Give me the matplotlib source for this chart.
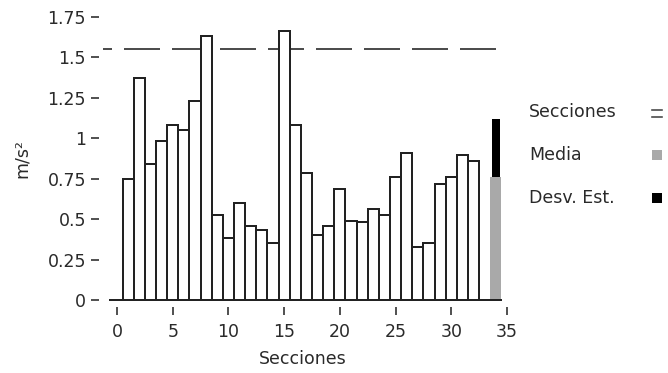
import matplotlib
matplotlib.use("Agg")
import matplotlib.pyplot as plt
from matplotlib.patches import Rectangle
import numpy as np

# Acceleration per section (m/s^2)
sections = list(range(1, 33))
accel = [0.75, 1.37, 0.84, 0.98, 1.08, 1.05, 1.23, 1.63,
         0.525, 0.38, 0.60, 0.46, 0.43, 0.355, 1.66, 1.08,
         0.785, 0.40, 0.46, 0.685, 0.49, 0.48, 0.56, 0.525,
         0.76, 0.91, 0.33, 0.35, 0.715, 0.76, 0.895, 0.86]
threshold = 1.55
summary_pos = 34
mean_val = float(np.mean(accel))
std_val = 0.356

xticks = [0, 5, 10, 15, 20, 25, 30, 35]
yticks = [0, 0.25, 0.5, 0.75, 1, 1.25, 1.5, 1.75]
ytick_labels = ["0", "0.25", "0.5", "0.75", "1", "1.25", "1.5", "1.75"]
legend_labels = ["Secciones", "Media", "Desv. Est."]

TXT = "#2a2a2a"
EDGE = "#222222"
GRAY = "#a9a9a9"
PX = 0.72  # points per pixel at 100 dpi

plt.rcParams["font.family"] = ["DejaVu Sans"]
plt.rcParams["font.size"] = 12.5
plt.rcParams["lines.scale_dashes"] = False

W, H = 668, 373
fig = plt.figure(figsize=(W / 100, H / 100), dpi=100)
left, right, top, bottom = 103, 507.5, 16.7, 300
ax = fig.add_axes([left / W, 1 - bottom / H, (right - left) / W, (bottom - top) / H])

# Section bars, then the summary bar (mean with std stacked on top)
ax.bar(sections, accel, width=1.0, facecolor="white", edgecolor=EDGE,
       linewidth=2 * PX, zorder=3)
ax.bar([summary_pos], [mean_val], width=1.0, color=GRAY, linewidth=0, zorder=3)
ax.bar([summary_pos], [std_val], bottom=[mean_val], width=0.7, color="black",
       linewidth=0, zorder=3)

# Baseline and dashed threshold
ax.plot([-0.6, 34.5], [0, 0], color=EDGE, linewidth=2 * PX, clip_on=False, zorder=4)
ax.axhline(threshold, color=EDGE, linewidth=1.6 * PX,
           linestyle=(27 * PX, (36 * PX, 12 * PX)), dash_capstyle="butt", zorder=2)

ax.set_xlim(-1.256, 35.04)
ax.set_ylim(0, 1.75)
for s in ax.spines.values():
    s.set_visible(False)
ax.spines["left"].set_position(("outward", 4 * PX))
ax.spines["bottom"].set_position(("outward", 7 * PX))

ax.set_xticks(xticks)
ax.set_yticks(yticks)
ax.set_yticklabels(ytick_labels)
ax.tick_params(axis="both", direction="out", length=8 * PX, width=1.6 * PX,
               color=TXT, labelcolor=TXT)
ax.tick_params(axis="y", pad=5 * PX)
ax.tick_params(axis="x", pad=8 * PX)

ax.set_xlabel("Secciones", color=TXT)
ax.xaxis.set_label_coords((303 - left) / (right - left), (bottom - 350) / (bottom - top))
fig.text(22 / W, 1 - 159 / H, "m/s²", rotation=90, ha="center", va="center", color=TXT)

# Legend drawn on a pixel-space overlay
ov = fig.add_axes([0, 0, 1, 1], facecolor="none")
ov.set_xlim(0, W)
ov.set_ylim(H, 0)
ov.axis("off")
rows_y = [112, 155, 198]
for label, y in zip(legend_labels, rows_y):
    ov.text(529, y, label, ha="left", va="center", color=TXT)
ov.plot([652, 662], [110, 110], color="#444444", linewidth=1.6 * PX)
ov.plot([652, 662], [117, 117], color="#444444", linewidth=1.6 * PX)
ov.add_patch(Rectangle((652, rows_y[1] - 5), 10, 10, color=GRAY, linewidth=0))
ov.add_patch(Rectangle((652, rows_y[2] - 5), 10, 10, color="black", linewidth=0))

fig.savefig("out.png", dpi=100)
